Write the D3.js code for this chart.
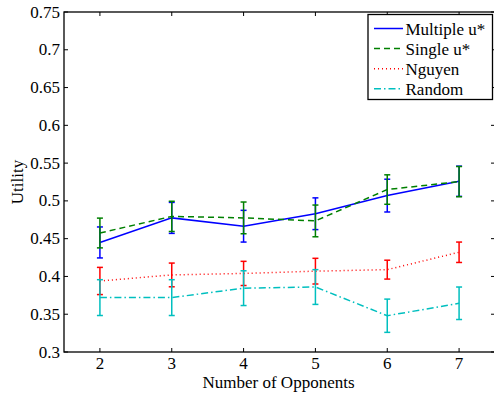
<!DOCTYPE html>
<html>
<head>
<meta charset="utf-8">
<script src="https://cdn.jsdelivr.net/npm/d3@7"></script>
<style>
  html, body { margin: 0; padding: 0; background: #fff; }
</style>
</head>
<body>
<div id="chart"></div>
<script>
const opponents = [2, 3, 4, 5, 6, 7];
const multipleMean = [0.445, 0.4775, 0.4665, 0.483, 0.507, 0.526];
const multipleErr = [0.0205, 0.0205, 0.021, 0.021, 0.0217, 0.020];
const singleMean = [0.4575, 0.4795, 0.4775, 0.4735, 0.515, 0.5255];
const singleErr = [0.0197, 0.020, 0.021, 0.021, 0.0195, 0.020];
const nguyenMean = [0.394, 0.402, 0.404, 0.407, 0.409, 0.432];
const nguyenErr = [0.018, 0.0157, 0.016, 0.017, 0.0125, 0.0135];
const randomMean = [0.372, 0.372, 0.3845, 0.386, 0.348, 0.3645];
const randomErr = [0.0237, 0.0237, 0.023, 0.023, 0.022, 0.0215];
const yTicks = [0.3, 0.35, 0.4, 0.45, 0.5, 0.55, 0.6, 0.65, 0.7, 0.75];

const series = [
  { name: "Multiple u*", mean: multipleMean, err: multipleErr, color: "#0000ff", dash: null },
  { name: "Single u*", mean: singleMean, err: singleErr, color: "#008000", dash: "6,4" },
  { name: "Nguyen", mean: nguyenMean, err: nguyenErr, color: "#ff0000", dash: "1,3" },
  { name: "Random", mean: randomMean, err: randomErr, color: "#00bfbf", dash: "7,3,1.5,3" }
];

const width = 494, height = 394;
const margin = { left: 64, top: 12, right: 495, bottom: 352 };
const FONT = "Liberation Serif";
const FS = "17px";

const svg = d3.select("#chart").append("svg")
  .attr("width", width)
  .attr("height", height);

const x = d3.scaleLinear().domain([1.5, 7.5]).range([margin.left, margin.right]);
const y = d3.scaleLinear().domain([0.3, 0.75]).range([margin.bottom, margin.top]);

const tickLen = 4;
const fmt = d => String(+d.toFixed(2));

// frame
svg.append("rect")
  .attr("x", margin.left).attr("y", margin.top)
  .attr("width", margin.right - margin.left)
  .attr("height", margin.bottom - margin.top)
  .attr("fill", "none").attr("stroke", "#000").attr("stroke-width", 1.3);

// y ticks (left + right, inward)
const yt = svg.append("g");
yTicks.forEach(t => {
  yt.append("line").attr("x1", margin.left).attr("x2", margin.left + tickLen)
    .attr("y1", y(t)).attr("y2", y(t)).attr("stroke", "#000");
  yt.append("line").attr("x1", margin.right).attr("x2", margin.right - tickLen)
    .attr("y1", y(t)).attr("y2", y(t)).attr("stroke", "#000");
  yt.append("text").attr("x", margin.left - 4).attr("y", y(t))
    .attr("dy", "0.33em").attr("text-anchor", "end")
    .style("font-family", FONT).style("font-size", FS).text(fmt(t));
});

// x ticks (bottom + top, inward)
const xt = svg.append("g");
opponents.forEach(t => {
  xt.append("line").attr("x1", x(t)).attr("x2", x(t))
    .attr("y1", margin.bottom).attr("y2", margin.bottom - tickLen).attr("stroke", "#000");
  xt.append("line").attr("x1", x(t)).attr("x2", x(t))
    .attr("y1", margin.top).attr("y2", margin.top + tickLen).attr("stroke", "#000");
  xt.append("text").attr("x", x(t)).attr("y", 369)
    .attr("text-anchor", "middle")
    .style("font-family", FONT).style("font-size", FS).text(t);
});

svg.append("text")
  .attr("x", (margin.left + margin.right) / 2 - 1).attr("y", 388)
  .attr("text-anchor", "middle")
  .style("font-family", FONT).style("font-size", FS)
  .text("Number of Opponents");

svg.append("text")
  .attr("transform", `translate(23, ${(margin.top + margin.bottom) / 2}) rotate(-90)`)
  .attr("text-anchor", "middle")
  .style("font-family", FONT).style("font-size", FS)
  .text("Utility");

// series
const line = d3.line().x(d => x(d[0])).y(d => y(d[1]));
const capW = 3;

series.forEach(s => {
  const pts = opponents.map((o, i) => [o, s.mean[i], s.err[i]]);
  const g = svg.append("g");
  pts.forEach(p => {
    const top = y(p[1] + p[2]), bot = y(p[1] - p[2]);
    g.append("line").attr("x1", x(p[0])).attr("x2", x(p[0]))
      .attr("y1", top).attr("y2", bot)
      .attr("stroke", s.color).attr("stroke-width", 1.5);
    [top, bot].forEach(yy => {
      g.append("line").attr("x1", x(p[0]) - capW).attr("x2", x(p[0]) + capW)
        .attr("y1", yy).attr("y2", yy)
        .attr("stroke", s.color).attr("stroke-width", 1.5);
    });
  });
  g.append("path").datum(pts)
    .attr("d", line).attr("fill", "none")
    .attr("stroke", s.color).attr("stroke-width", 1.5)
    .attr("stroke-dasharray", s.dash);
});

// legend
const lg = svg.append("g");
lg.append("rect").attr("x", 368).attr("y", 14.5).attr("width", 124.5).attr("height", 85)
  .attr("fill", "#fff").attr("stroke", "#000").attr("stroke-width", 1.3);
series.forEach((s, i) => {
  const yy = 28.5 + i * 20.1;
  lg.append("line").attr("x1", 374).attr("x2", 403).attr("y1", yy).attr("y2", yy)
    .attr("stroke", s.color).attr("stroke-width", 1.5)
    .attr("stroke-dasharray", s.dash);
  lg.append("text").attr("x", 405.5).attr("y", yy + 6)
    .style("font-family", FONT).style("font-size", FS).text(s.name);
});
</script>
</body>
</html>
